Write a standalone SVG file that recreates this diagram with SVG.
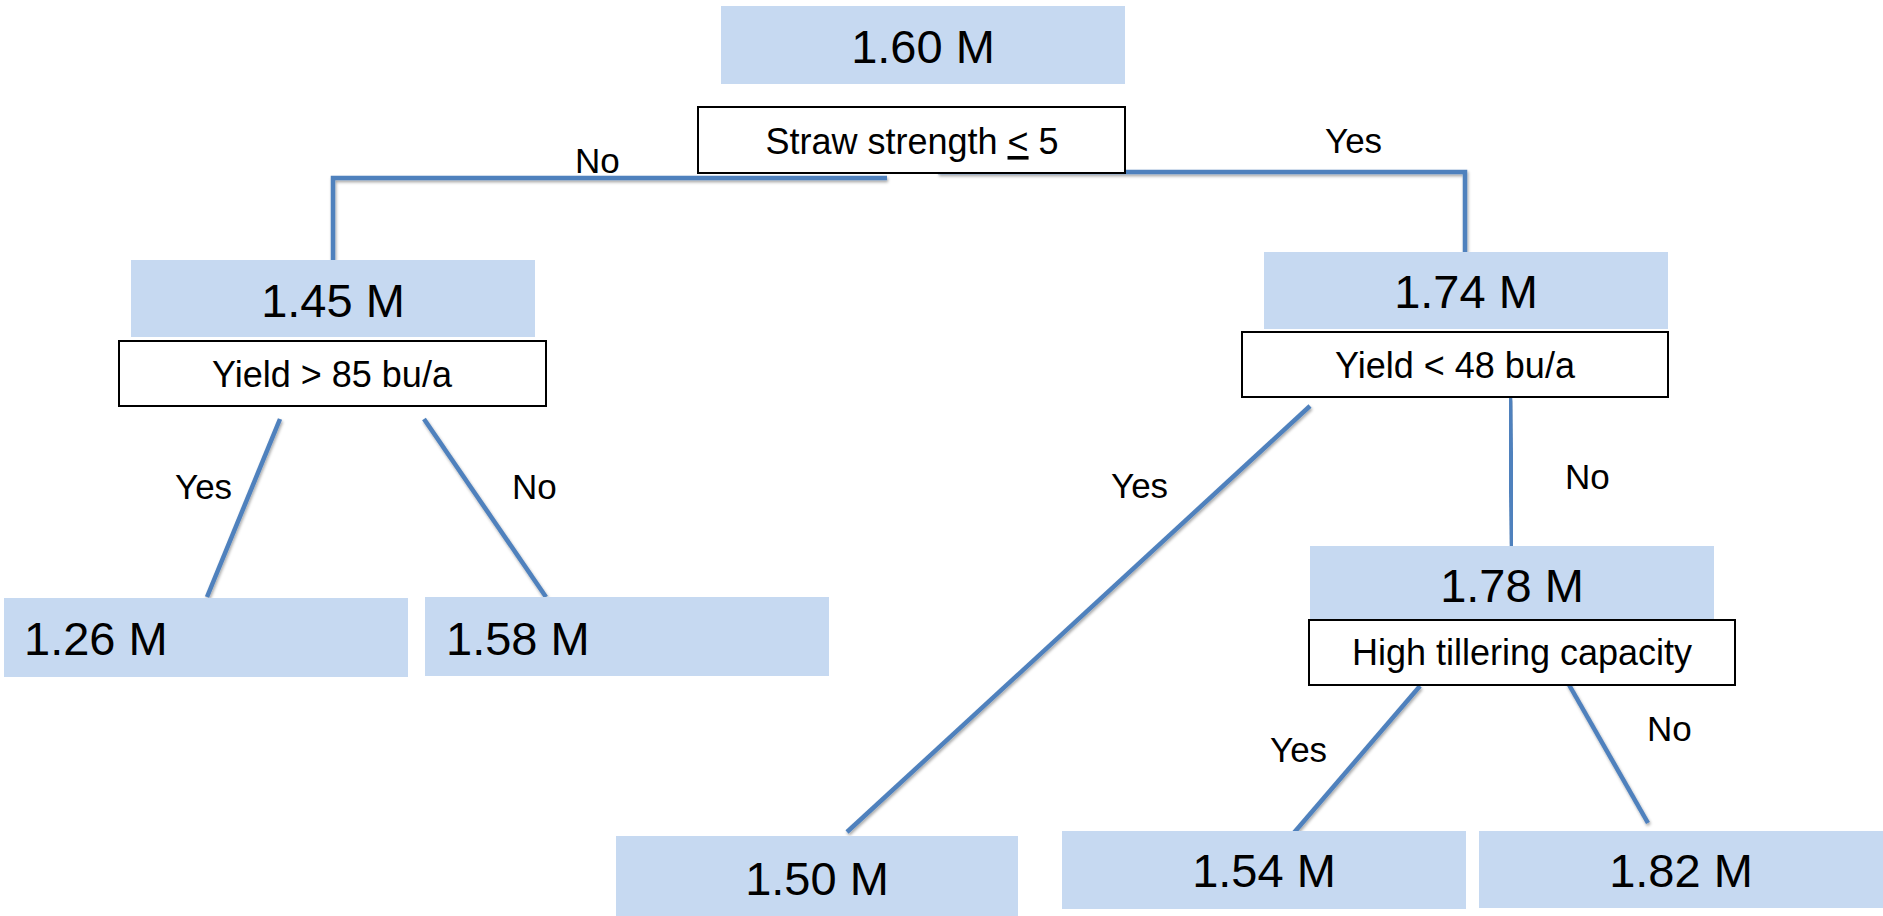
<svg xmlns="http://www.w3.org/2000/svg" width="1883" height="916" viewBox="0 0 1883 916">
<defs>
<filter id="sh" x="-10%" y="-10%" width="120%" height="120%">
<feDropShadow dx="1" dy="2" stdDeviation="1.5" flood-color="#000" flood-opacity="0.35"/>
</filter>
<style>
.val{fill:#c6d9f1;stroke:none}
.cond{fill:#fff;stroke:#000;stroke-width:2}
.vt{font-family:"Liberation Sans",Arial,sans-serif;font-size:47px;fill:#000}
.ct{font-family:"Liberation Sans",Arial,sans-serif;font-size:36px;fill:#000;text-anchor:middle}
.lbl{font-family:"Liberation Sans",Arial,sans-serif;font-size:35px;fill:#000}
.mid{text-anchor:middle}
.edge{fill:none;stroke:#4f81bd;stroke-width:4.5;filter:url(#sh)}
</style>
</defs>
<rect width="1883" height="916" fill="#fff"/>
<g id="connectors">
<polyline class="edge" points="887,178 333,178 333,260"/>
<polyline class="edge" points="938,172 1465,172 1465,252"/>
<line class="edge" x1="280" y1="419" x2="207" y2="597"/>
<line class="edge" x1="424" y1="419" x2="546" y2="597"/>
<line class="edge" x1="1310" y1="406" x2="847" y2="832"/>
<line class="edge" x1="1510" y1="398" x2="1512" y2="546"/>
<line class="edge" x1="1420" y1="686" x2="1292" y2="835"/>
<line class="edge" x1="1568" y1="683" x2="1648" y2="823"/>
</g>
<g id="labels">
<text class="lbl" x="575" y="173">No</text>
<text class="lbl" x="1325" y="153">Yes</text>
<text class="lbl" x="175" y="499">Yes</text>
<text class="lbl" x="512" y="499">No</text>
<text class="lbl" x="1111" y="498">Yes</text>
<text class="lbl" x="1565" y="489">No</text>
<text class="lbl" x="1270" y="762">Yes</text>
<text class="lbl" x="1647" y="741">No</text>
</g>
<g id="n160">
<rect class="val" x="721" y="6" width="404" height="78"/>
<text class="vt mid" x="923" y="63">1.60 M</text>
</g>
<g id="c-straw">
<rect class="cond" x="698" y="107" width="427" height="66"/>
<text class="ct" x="912" y="154">Straw strength <tspan text-decoration="underline">&lt;</tspan> 5</text>
</g>
<g id="n145">
<rect class="val" x="131" y="260" width="404" height="77"/>
<text class="vt mid" x="333" y="317">1.45 M</text>
</g>
<g id="c-yield85">
<rect class="cond" x="119" y="341" width="427" height="65"/>
<text class="ct" x="332" y="387">Yield &gt; 85 bu/a</text>
</g>
<g id="n174">
<rect class="val" x="1264" y="252" width="404" height="77"/>
<text class="vt mid" x="1466" y="308">1.74 M</text>
</g>
<g id="c-yield48">
<rect class="cond" x="1242" y="332" width="426" height="65"/>
<text class="ct" x="1455" y="378">Yield &lt; 48 bu/a</text>
</g>
<g id="n126">
<rect class="val" x="4" y="598" width="404" height="79"/>
<text class="vt" x="24" y="655">1.26 M</text>
</g>
<g id="n158">
<rect class="val" x="425" y="597" width="404" height="79"/>
<text class="vt" x="446" y="655">1.58 M</text>
</g>
<g id="n178">
<rect class="val" x="1310" y="546" width="404" height="74"/>
<text class="vt mid" x="1512" y="602">1.78 M</text>
</g>
<g id="c-tiller">
<rect class="cond" x="1309" y="620" width="426" height="65"/>
<text class="ct" x="1522" y="665">High tillering capacity</text>
</g>
<g id="n150">
<rect class="val" x="616" y="836" width="402" height="80"/>
<text class="vt mid" x="817" y="895">1.50 M</text>
</g>
<g id="n154">
<rect class="val" x="1062" y="831" width="404" height="78"/>
<text class="vt mid" x="1264" y="887">1.54 M</text>
</g>
<g id="n182">
<rect class="val" x="1479" y="831" width="404" height="77"/>
<text class="vt mid" x="1681" y="887">1.82 M</text>
</g>
</svg>
